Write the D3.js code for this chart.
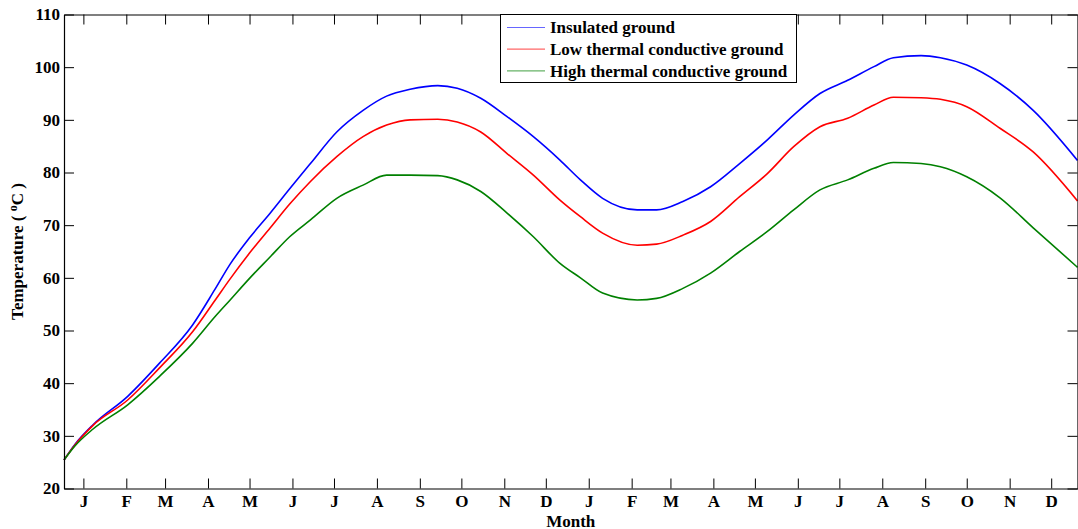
<!DOCTYPE html>
<head>
  <meta charset="utf-8">
  <script src="https://d3js.org/d3.v7.min.js"></script>
  <style>
    body { margin: 0; background: white; }
    text { font-family: "Liberation Serif", "Times New Roman", serif; font-weight: bold; font-size: 17px; fill: black; }
    .series { fill: none; stroke-width: 1.6; stroke-linejoin: round; }
  </style>
</head>

<body>
  <svg width="1078" height="529"></svg>

  <script>
    // day index (0 = start of first January)
    const days = [0, 8, 21, 46, 69, 93, 109, 120, 134, 149, 163, 178, 197, 216, 233, 250, 270, 284, 301, 320,
      339, 358, 373, 389, 414, 428, 447, 467, 488, 508, 527, 546, 566, 585, 599, 619, 633, 652, 676, 700, 732];
    const insulated = [25.4, 28.4, 32.1, 37.5, 43.8, 51.1, 57.8, 62.6, 67.6, 72.3, 76.9, 81.7, 87.7, 91.8, 94.5, 95.8, 96.5, 96.0, 94.1, 90.6,
      86.8, 82.4, 78.6, 75.1, 72.9, 72.9, 74.5, 77.3, 81.7, 86.2, 90.9, 95.0, 97.5, 100.1, 101.8, 102.2, 101.8, 100.4, 96.9, 91.8, 82.3];
    const lowCond = [25.4, 28.3, 32.0, 36.8, 42.9, 49.8, 55.7, 59.8, 64.7, 69.5, 74.0, 78.3, 83.0, 86.8, 89.0, 90.0, 90.1, 89.6, 87.7, 83.6,
      79.5, 74.8, 71.6, 68.5, 66.2, 66.4, 68.1, 70.7, 75.4, 79.8, 84.9, 88.7, 90.3, 92.8, 94.3, 94.2, 93.9, 92.5, 88.4, 83.9, 74.6];
    const highCond = [25.4, 28.1, 31.3, 35.9, 41.3, 47.6, 52.6, 55.8, 59.9, 64.0, 67.8, 71.0, 75.1, 77.6, 79.5, 79.5, 79.4, 78.6, 76.4, 72.3,
      67.8, 62.8, 60.0, 57.1, 55.8, 56.1, 58.0, 60.9, 65.0, 68.8, 72.9, 76.7, 78.6, 80.8, 81.9, 81.7, 81.1, 79.2, 75.2, 69.5, 62.0];

    const monthLabels = ['J', 'F', 'M', 'A', 'M', 'J', 'J', 'A', 'S', 'O', 'N', 'D',
      'J', 'F', 'M', 'A', 'M', 'J', 'J', 'A', 'S', 'O', 'N', 'D'];
    const monthLengths = [31, 28, 31, 30, 31, 30, 31, 31, 30, 31, 30, 31];
    const yTicks = [20, 30, 40, 50, 60, 70, 80, 90, 100, 110];

    const seriesNames = ['Insulated ground', 'Low thermal conductive ground', 'High thermal conductive ground'];
    const seriesColors = ['#0000ff', '#ff0000', '#008000'];
    const seriesValues = [insulated, lowCond, highCond];

    // tick at the middle of each month (day 15)
    const monthTicks = [];
    let acc = 0;
    for (let k = 0; k < 2; k++) {
      monthLengths.forEach(len => { monthTicks.push(acc + 14); acc += len; });
    }

    const svg = d3.select('svg');
    const mLeft = 64, mRight = 1077.5, mTop = 14.5, mBottom = 488.5;
    const tickLen = 10;

    const x = d3.scaleLinear().domain([0, 732]).range([mLeft, mRight]);
    const y = d3.scaleLinear().domain([20, 110]).range([mBottom, mTop]);

    // series
    const line = d3.line().curve(d3.curveMonotoneX).x((d, i) => x(days[i])).y(d => y(d));
    svg.selectAll('.series')
      .data(seriesValues)
      .enter().append('path')
      .attr('class', 'series')
      .attr('stroke', (d, i) => seriesColors[i])
      .attr('d', line);

    // axes (box with inward ticks, MATLAB style)
    const bottomAxis = d3.axisBottom(x).tickValues(monthTicks).tickSizeInner(-tickLen).tickSizeOuter(0).tickPadding(14)
      .tickFormat((d, i) => monthLabels[i]);
    const topAxis = d3.axisTop(x).tickValues(monthTicks).tickSizeInner(-tickLen).tickSizeOuter(0).tickFormat('');
    const leftAxis = d3.axisLeft(y).tickValues(yTicks).tickSizeInner(-tickLen).tickSizeOuter(0).tickPadding(4);
    const rightAxis = d3.axisRight(y).tickValues(yTicks).tickSizeInner(-tickLen).tickSizeOuter(0).tickFormat('');

    const styleAxis = g => {
      g.attr('font-size', null).attr('font-family', null);
      g.selectAll('.domain').attr('stroke', 'black').attr('stroke-width', 1.2);
      g.selectAll('.tick line').attr('stroke', 'black');
      g.selectAll('text').attr('fill', 'black');
    };

    svg.append('g').attr('transform', `translate(0,${mBottom})`).call(bottomAxis).call(styleAxis)
      .selectAll('.tick text').attr('dy', '0.25em');
    svg.append('g').attr('transform', `translate(0,${mTop})`).call(topAxis).call(styleAxis);
    svg.append('g').attr('transform', `translate(${mLeft},0)`).call(leftAxis).call(styleAxis);
    svg.append('g').attr('transform', `translate(${mRight},0)`).call(rightAxis).call(styleAxis);

    // axis titles
    svg.append('text')
      .attr('x', (mLeft + mRight) / 2)
      .attr('y', 526.5)
      .attr('text-anchor', 'middle')
      .text('Month');

    const yt = svg.append('text')
      .attr('transform', `translate(23,${(mTop + mBottom) / 2}) rotate(-90)`)
      .attr('text-anchor', 'middle');
    yt.append('tspan').text('Temperature ( ');
    yt.append('tspan').attr('font-size', '12px').attr('dy', '-6').text('o');
    yt.append('tspan').attr('dy', '6').text('C )');

    // legend
    const lg = svg.append('g');
    lg.append('rect')
      .attr('x', 500.5).attr('y', mTop)
      .attr('width', 296).attr('height', 68)
      .attr('fill', 'white').attr('stroke', 'black');
    const rows = lg.selectAll('.row')
      .data(seriesNames)
      .enter().append('g')
      .attr('transform', (d, i) => `translate(0,${27.5 + i * 21.7})`);
    rows.append('line')
      .attr('x1', 507).attr('x2', 545)
      .attr('stroke', (d, i) => seriesColors[i])
      .attr('stroke-opacity', 0.6)
      .attr('stroke-width', 1.2);
    rows.append('text')
      .attr('x', 550)
      .attr('dy', '0.35em')
      .text(d => d);
  </script>
</body>
